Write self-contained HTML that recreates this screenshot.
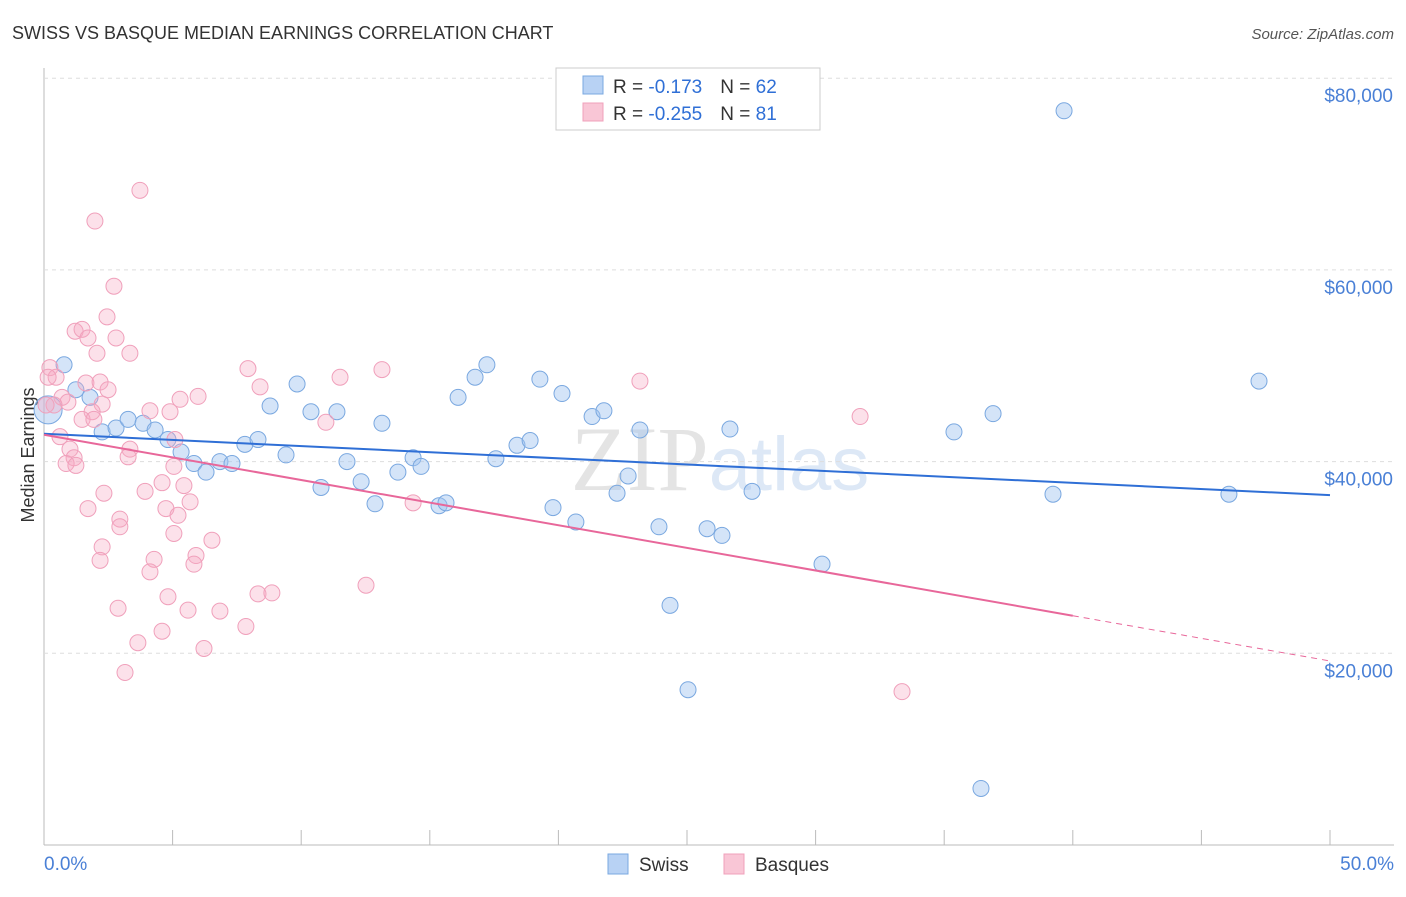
<!DOCTYPE html>
<html><head><meta charset="utf-8"><style>
body{margin:0;background:#fff;font-family:"Liberation Sans",sans-serif;}
#wrap{position:relative;width:1406px;height:892px;}
</style></head><body>
<div id="wrap">
<svg id="svg" width="1406" height="892" xmlns="http://www.w3.org/2000/svg">
<text x="12" y="39" font-size="18" fill="#333">SWISS VS BASQUE MEDIAN EARNINGS CORRELATION CHART</text>
<text x="1394" y="39" font-size="15" fill="#555" text-anchor="end" font-style="italic">Source: ZipAtlas.com</text>
<text x="720" y="490" font-size="92" fill="#e4e4e4" text-anchor="middle" font-family="Liberation Serif,serif">ZIP<tspan fill="#dde8f6" font-family="Liberation Sans,sans-serif" font-size="76">atlas</tspan></text>
<text transform="translate(34,455) rotate(-90)" font-size="18" fill="#333" text-anchor="middle">Median Earnings</text>
<g id="grid"></g><g id="pts"></g><g id="lines"></g>
<g>
<rect x="556" y="68" width="264" height="62" fill="#fff" stroke="#ccc"/>
<rect x="583" y="76" width="20" height="18" fill="#b8d2f4" stroke="#7aa8e0"/>
<rect x="583" y="103" width="20" height="18" fill="#f9c6d6" stroke="#f0a0bb"/>
<text x="613" y="93" font-size="19" fill="#333">R = <tspan fill="#2f6fd6"> -0.173</tspan><tspan dx="18">N = </tspan><tspan fill="#2f6fd6">62</tspan></text>
<text x="613" y="120" font-size="19" fill="#333">R = <tspan fill="#2f6fd6">-0.255</tspan><tspan dx="18">N = </tspan><tspan fill="#2f6fd6"> 81</tspan></text>
</g>
<g>
<rect x="608" y="854" width="20" height="20" fill="#b8d2f4" stroke="#7aa8e0"/>
<text x="639" y="871" font-size="19" fill="#333">Swiss</text>
<rect x="724" y="854" width="20" height="20" fill="#f9c6d6" stroke="#f0a0bb"/>
<text x="755" y="871" font-size="19" fill="#333">Basques</text>
</g>
<text x="44" y="870" font-size="19" fill="#4a80d6">0.0%</text>
<text x="1394" y="870" font-size="19" fill="#4a80d6" text-anchor="end">50.0%</text>
</svg></div>
<script>
const yTicks=[20000,40000,60000,80000];
const yTickLabels=["$20,000","$40,000","$60,000","$80,000"];
const swissX=[0.78,1.24,1.79,2.26,2.80,3.27,3.85,4.32,4.82,5.33,5.83,6.30,6.84,7.31,7.81,8.32,8.79,9.41,9.84,10.38,10.77,11.39,11.78,12.33,12.87,13.14,13.76,14.35,14.66,15.36,15.63,16.10,16.76,17.22,17.57,18.39,18.90,19.28,19.79,20.14,20.68,21.31,21.77,22.28,22.71,23.17,23.91,24.34,25.04,25.78,26.36,26.67,27.53,30.25,35.38,36.90,39.23,39.66,46.07,47.24,36.43,0.16];
const swissY=[50.1,47.5,46.7,43.1,43.5,44.4,44.0,43.3,42.3,41.0,39.8,38.9,40.0,39.8,41.8,42.3,45.8,40.7,48.1,45.2,37.3,45.2,40.0,37.9,35.6,44.0,38.9,40.4,39.5,35.4,35.7,46.7,48.8,50.1,40.3,41.7,42.2,48.6,35.2,47.1,33.7,44.7,45.3,36.7,38.5,43.3,33.2,25.0,16.2,33.0,32.3,43.4,36.9,29.3,43.1,45.0,36.6,76.6,36.6,48.4,5.9,45.4];
const basqueX=[3.73,1.98,2.72,2.45,1.21,1.48,1.71,2.80,2.06,3.34,0.23,0.47,0.16,1.63,2.18,2.49,0.70,0.93,0.39,0.08,2.26,1.87,1.48,1.94,0.62,1.01,1.17,0.86,1.24,3.34,3.27,4.12,4.90,5.99,5.29,5.09,5.05,4.59,5.44,5.68,4.74,5.21,3.93,2.33,1.71,2.95,2.95,5.05,6.53,2.26,5.91,2.18,4.28,5.83,4.12,4.82,5.60,2.88,6.84,3.65,4.59,7.85,6.22,3.15,7.93,8.40,11.51,13.14,10.96,14.35,12.52,8.32,8.86,23.17,31.73,33.36];
const basqueY=[68.3,65.1,58.3,55.1,53.6,53.8,52.9,52.9,51.3,51.3,49.8,48.8,48.8,48.2,48.3,47.5,46.7,46.2,45.9,45.9,46.0,45.2,44.4,44.4,42.6,41.3,40.4,39.8,39.6,41.3,40.5,45.3,45.2,46.8,46.5,42.3,39.5,37.8,37.5,35.8,35.1,34.4,36.9,36.7,35.1,34.0,33.2,32.5,31.8,31.1,30.2,29.7,29.8,29.3,28.5,25.9,24.5,24.7,24.4,21.1,22.3,22.8,20.5,18.0,49.7,47.8,48.8,49.6,44.1,35.7,27.1,26.2,26.3,48.4,44.7,16.0];
const swissTrend=[42.9,36.5];
const basqueTrend=[42.8,19.2];
const basqueSolidEnd=40;
const NS="http://www.w3.org/2000/svg";
const X=p=>44+p*25.72;
const Y=v=>845-v*(383.4/40000);
function mk(t,a,parent){const e=document.createElementNS(NS,t);for(const k in a)e.setAttribute(k,a[k]);document.getElementById(parent).appendChild(e);return e;}
mk('line',{x1:44,y1:68,x2:44,y2:845,stroke:'#bbb'},'grid');
mk('line',{x1:44,y1:845,x2:1394,y2:845,stroke:'#bbb'},'grid');
for(let i=0;i<=10;i++){const l=mk('line',{x1:X(i*5),y1:830,x2:X(i*5),y2:845,stroke:'#bbb'},'grid');

}
yTicks.forEach((v,i)=>{const g=mk('line',{x1:44,y1:Y(v),x2:1394,y2:Y(v),stroke:'#ddd','stroke-dasharray':'4,4'},'grid');


const t=mk('text',{x:1393,y:Y(v)+24,'font-size':19,fill:'#4a80d6','text-anchor':'end'},'grid');t.textContent=yTickLabels[i];

});
swissX.forEach((x,i)=>{const c=mk('circle',{cx:X(x),cy:Y(swissY[i]*1000),r:(i==swissX.length-1?14:8),fill:'rgba(160,195,240,0.45)',stroke:'#7aa8e0','stroke-width':1},'pts');

});
basqueX.forEach((x,i)=>{const c=mk('circle',{cx:X(x),cy:Y(basqueY[i]*1000),r:8,fill:'rgba(245,170,195,0.35)',stroke:'#f0a0bb','stroke-width':1},'pts');

});
const s=mk('line',{x1:X(0),y1:Y(swissTrend[0]*1000),x2:X(50),y2:Y(swissTrend[1]*1000),stroke:'#2f6fd6','stroke-width':2},'lines');


const bAt=p=>basqueTrend[0]+(basqueTrend[1]-basqueTrend[0])*p/50;
const b=mk('line',{x1:X(0),y1:Y(bAt(0)*1000),x2:X(basqueSolidEnd),y2:Y(bAt(basqueSolidEnd)*1000),stroke:'#e8679a','stroke-width':2},'lines');


const bd=mk('line',{x1:X(basqueSolidEnd),y1:Y(bAt(basqueSolidEnd)*1000),x2:X(50),y2:Y(bAt(50)*1000),stroke:'#e8679a','stroke-width':1,'stroke-dasharray':'6,5'},'lines');


</script>
</body></html>
